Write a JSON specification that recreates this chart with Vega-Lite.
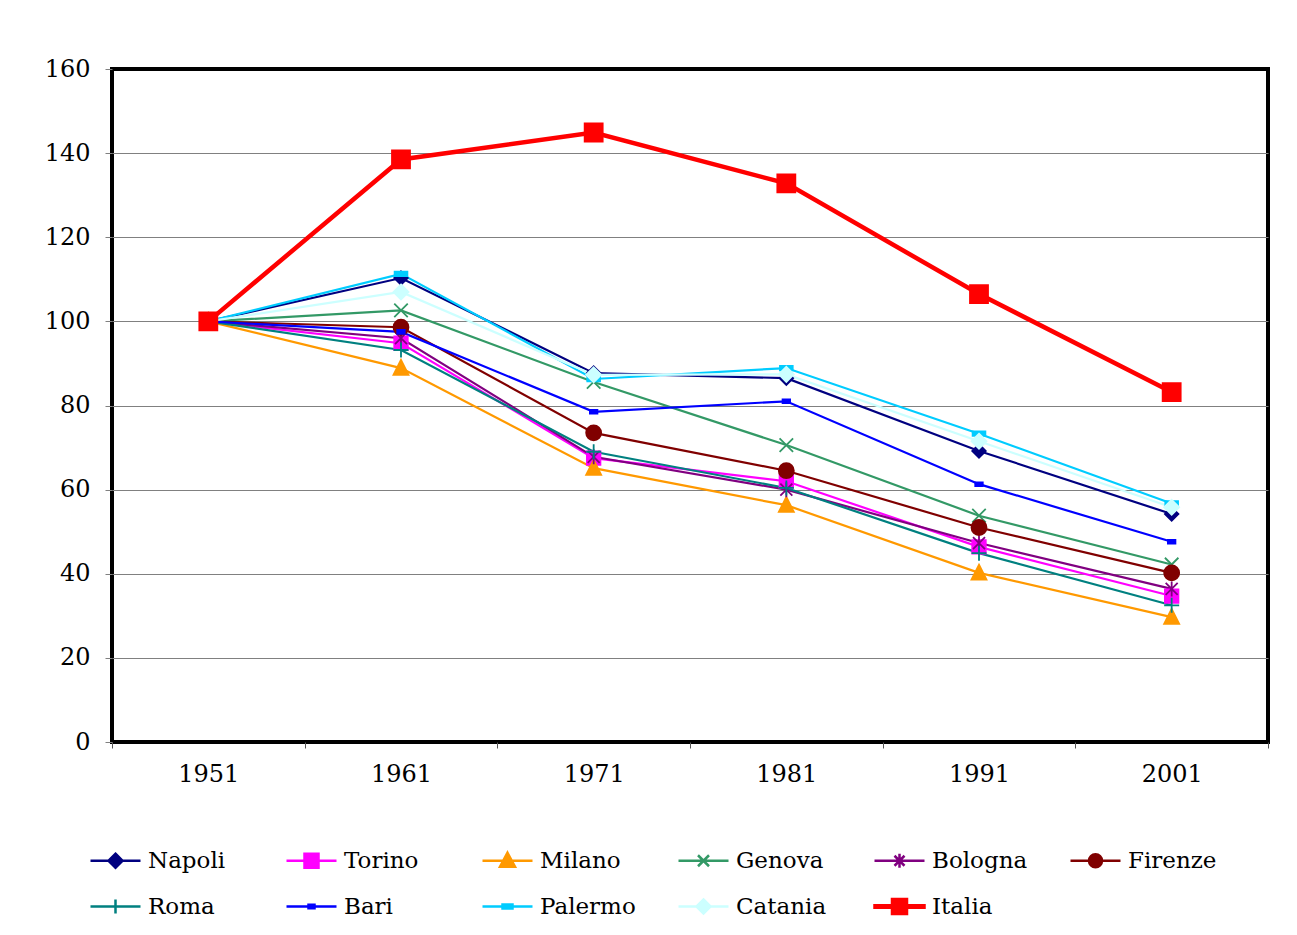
{
  "$schema": "https://vega.github.io/schema/vega-lite/v6.json",
  "width": 1156,
  "height": 673,
  "autosize": {"type": "none"},
  "padding": {"left": 112, "top": 69, "right": 29, "bottom": 193},
  "background": "white",
  "data": {"values": [
    {"city": "Napoli", "year": "1951", "value": 100}, {"city": "Napoli", "year": "1961", "value": 110.3}, {"city": "Napoli", "year": "1971", "value": 87.7}, {"city": "Napoli", "year": "1981", "value": 86.5}, {"city": "Napoli", "year": "1991", "value": 69.2}, {"city": "Napoli", "year": "2001", "value": 54.2},
    {"city": "Torino", "year": "1951", "value": 100}, {"city": "Torino", "year": "1961", "value": 94.8}, {"city": "Torino", "year": "1971", "value": 67.5}, {"city": "Torino", "year": "1981", "value": 62.0}, {"city": "Torino", "year": "1991", "value": 46.4}, {"city": "Torino", "year": "2001", "value": 34.7},
    {"city": "Milano", "year": "1951", "value": 100}, {"city": "Milano", "year": "1961", "value": 88.9}, {"city": "Milano", "year": "1971", "value": 65.1}, {"city": "Milano", "year": "1981", "value": 56.3}, {"city": "Milano", "year": "1991", "value": 40.2}, {"city": "Milano", "year": "2001", "value": 29.7},
    {"city": "Genova", "year": "1951", "value": 100}, {"city": "Genova", "year": "1961", "value": 102.6}, {"city": "Genova", "year": "1971", "value": 85.6}, {"city": "Genova", "year": "1981", "value": 70.6}, {"city": "Genova", "year": "1991", "value": 53.8}, {"city": "Genova", "year": "2001", "value": 42.2},
    {"city": "Bologna", "year": "1951", "value": 100}, {"city": "Bologna", "year": "1961", "value": 96.0}, {"city": "Bologna", "year": "1971", "value": 67.8}, {"city": "Bologna", "year": "1981", "value": 60.0}, {"city": "Bologna", "year": "1991", "value": 47.3}, {"city": "Bologna", "year": "2001", "value": 36.4},
    {"city": "Firenze", "year": "1951", "value": 100}, {"city": "Firenze", "year": "1961", "value": 98.6}, {"city": "Firenze", "year": "1971", "value": 73.5}, {"city": "Firenze", "year": "1981", "value": 64.5}, {"city": "Firenze", "year": "1991", "value": 51.0}, {"city": "Firenze", "year": "2001", "value": 40.2},
    {"city": "Roma", "year": "1951", "value": 100}, {"city": "Roma", "year": "1961", "value": 93.2}, {"city": "Roma", "year": "1971", "value": 69.0}, {"city": "Roma", "year": "1981", "value": 60.4}, {"city": "Roma", "year": "1991", "value": 44.9}, {"city": "Roma", "year": "2001", "value": 32.5},
    {"city": "Bari", "year": "1951", "value": 100}, {"city": "Bari", "year": "1961", "value": 97.5}, {"city": "Bari", "year": "1971", "value": 78.5}, {"city": "Bari", "year": "1981", "value": 81.0}, {"city": "Bari", "year": "1991", "value": 61.3}, {"city": "Bari", "year": "2001", "value": 47.6},
    {"city": "Palermo", "year": "1951", "value": 100}, {"city": "Palermo", "year": "1961", "value": 111.3}, {"city": "Palermo", "year": "1971", "value": 86.3}, {"city": "Palermo", "year": "1981", "value": 88.9}, {"city": "Palermo", "year": "1991", "value": 73.3}, {"city": "Palermo", "year": "2001", "value": 56.7},
    {"city": "Catania", "year": "1951", "value": 100}, {"city": "Catania", "year": "1961", "value": 107.0}, {"city": "Catania", "year": "1971", "value": 87.3}, {"city": "Catania", "year": "1981", "value": 87.4}, {"city": "Catania", "year": "1991", "value": 71.5}, {"city": "Catania", "year": "2001", "value": 55.8},
    {"city": "Italia", "year": "1951", "value": 100}, {"city": "Italia", "year": "1961", "value": 138.5}, {"city": "Italia", "year": "1971", "value": 144.9}, {"city": "Italia", "year": "1981", "value": 132.8}, {"city": "Italia", "year": "1991", "value": 106.5}, {"city": "Italia", "year": "2001", "value": 83.2}
  ]},
  "encoding": {
    "x": {"field": "year", "type": "ordinal", "scale": {"type": "band", "paddingInner": 0, "paddingOuter": 0},
      "axis": {"tickBand": "extent", "labelAngle": 0, "domain": false, "tickSize": 6, "tickColor": "#555555", "labelPadding": 14, "title": null, "grid": false}},
    "y": {"field": "value", "type": "quantitative", "scale": {"domain": [0, 160], "nice": false},
      "axis": {"values": [0, 20, 40, 60, 80, 100, 120, 140, 160], "grid": true, "gridColor": "#808080", "gridWidth": 1,
        "gridOpacity": {"condition": {"test": "datum.value === 0 || datum.value === 160", "value": 0}, "value": 1},
        "tickSize": 7, "tickColor": "#808080", "labelPadding": 15, "domain": false, "title": null}}
  },
  "layer": [
    {
      "mark": {"type": "line"},
      "encoding": {
        "color": {"field": "city", "type": "nominal", "sort": null, "legend": null,
          "scale": {"domain": ["Napoli", "Torino", "Milano", "Genova", "Bologna", "Firenze", "Roma", "Bari", "Palermo", "Catania", "Italia"],
            "range": ["#000080", "#FF00FF", "#FF9900", "#339966", "#800080", "#800000", "#008080", "#0000FF", "#00CCFF", "#CCFFFF", "#FF0000"]}},
        "strokeWidth": {"condition": {"test": "datum.city === 'Italia'", "value": 4.5}, "value": 2.2}
      }
    },
    {
      "mark": {"type": "point", "filled": true, "opacity": 1, "size": 225, "strokeWidth": 1.8},
      "encoding": {
        "fill": {"field": "city", "type": "nominal", "sort": null, "legend": null,
          "scale": {"domain": ["Napoli", "Torino", "Milano", "Genova", "Bologna", "Firenze", "Roma", "Bari", "Palermo", "Catania", "Italia"],
            "range": ["#000080", "#FF00FF", "#FF9900", "#339966", "#800080", "#800000", "#008080", "#0000FF", "#00CCFF", "#CCFFFF", "#FF0000"]}},
        "stroke": {"field": "city", "type": "nominal", "sort": null, "legend": null,
          "scale": {"domain": ["Napoli", "Torino", "Milano", "Genova", "Bologna", "Firenze", "Roma", "Bari", "Palermo", "Catania", "Italia"],
            "range": ["#000080", "#FF00FF", "#FF9900", "#339966", "#800080", "#800000", "#008080", "#0000FF", "#00CCFF", "#CCFFFF", "#FF0000"]}},
        "shape": {"field": "city", "type": "nominal", "sort": null, "legend": null,
          "scale": {"domain": ["Napoli", "Torino", "Milano", "Genova", "Bologna", "Firenze", "Roma", "Bari", "Palermo", "Catania", "Italia"],
            "range": [
              "M0,-0.9L0.9,0L0,0.9L-0.9,0Z",
              "M-0.9,-0.9H0.9V0.9H-0.9Z",
              "M0,-1.1L1,0.9H-1Z",
              "M-0.9,-0.9L0.9,0.9M-0.9,0.9L0.9,-0.9",
              "M-0.8,-0.8L0.8,0.8M-0.8,0.8L0.8,-0.8M0,-1V1",
              "M1,0A1,1 0 1,1 -1,0A1,1 0 1,1 1,0Z",
              "M-1,0H1M0,-1V1",
              "M-0.5,-0.25H0.5V0.25H-0.5Z",
              "M-0.85,-0.3H0.85V0.3H-0.85Z",
              "M0,-1L1,0L0,1L-1,0Z",
              "M-1.2,-1.2H1.2V1.2H-1.2Z"
            ]}}
      }
    },
    {
      "transform": [{"filter": "datum.value < 0"}],
      "mark": {"type": "point", "filled": true, "opacity": 1},
      "encoding": {
        "fill": {"field": "city", "type": "nominal", "sort": null,
          "scale": {"domain": ["Napoli", "Torino", "Milano", "Genova", "Bologna", "Firenze", "Roma", "Bari", "Palermo", "Catania", "Italia"],
            "range": ["#000080", "#FF00FF", "#FF9900", "#339966", "#800080", "#800000", "#008080", "#0000FF", "#00CCFF", "#CCFFFF", "#FF0000"]},
          "legend": {"title": null}},
        "stroke": {"field": "city", "type": "nominal", "sort": null,
          "scale": {"domain": ["Napoli", "Torino", "Milano", "Genova", "Bologna", "Firenze", "Roma", "Bari", "Palermo", "Catania", "Italia"],
            "range": ["#000080", "#FF00FF", "#FF9900", "#339966", "#800080", "#800000", "#008080", "#0000FF", "#00CCFF", "#CCFFFF", "#FF0000"]},
          "legend": {"title": null}},
        "shape": {"field": "city", "type": "nominal", "sort": null,
          "scale": {"domain": ["Napoli", "Torino", "Milano", "Genova", "Bologna", "Firenze", "Roma", "Bari", "Palermo", "Catania", "Italia"],
            "range": [
              "M-1,0H1M0,-0.28L0.28,0L0,0.28L-0.28,0Z",
              "M-1,0H1M-0.28,-0.28H0.28V0.28H-0.28Z",
              "M-1,0H1M0,-0.32L0.3,0.24H-0.3Z",
              "M-1,0H1M-0.22,-0.22L0.22,0.22M-0.22,0.22L0.22,-0.22",
              "M-1,0H1M-0.2,-0.2L0.2,0.2M-0.2,0.2L0.2,-0.2M0,-0.28V0.28",
              "M-1,0H1M0.26,0A0.26,0.26 0 1,1 -0.26,0A0.26,0.26 0 1,1 0.26,0Z",
              "M-1,0H1M0,-0.28V0.28",
              "M-1,0H1M-0.12,-0.07H0.12V0.07H-0.12Z",
              "M-1,0H1M-0.2,-0.08H0.2V0.08H-0.2Z",
              "M-1,0H1M0,-0.28L0.28,0L0,0.28L-0.28,0Z",
              "M-1,-0.05H1V0.05H-1ZM-0.3,-0.3H0.3V0.3H-0.3Z"
            ]},
          "legend": {"title": null}}
      }
    }
  ],
  "resolve": {"scale": {"color": "independent", "fill": "independent", "stroke": "independent", "shape": "independent"}},
  "config": {
    "view": {"stroke": "#000000", "strokeWidth": 4, "fill": "white"},
    "axis": {"labelFont": "DejaVu Serif", "labelFontSize": 24, "labelColor": "#000000"},
    "legend": {"orient": "none", "legendX": -23, "legendY": 765, "columns": 6, "gridAlign": "all", "columnPadding": 37, "rowPadding": 7,
      "symbolSize": 2500, "symbolStrokeWidth": 2.5, "symbolOpacity": 1, "labelFont": "DejaVu Serif", "labelFontSize": 23, "labelColor": "#000000", "labelOffset": 6, "labelLimit": 300, "direction": "horizontal", "padding": 0}
  }
}
